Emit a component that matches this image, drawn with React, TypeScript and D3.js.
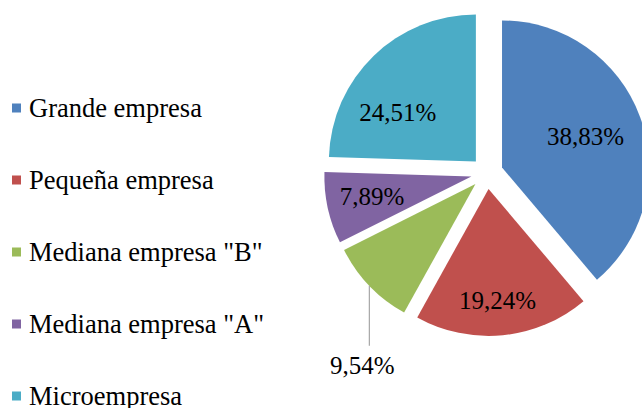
import React from 'react';
import * as d3 from 'd3';

// data
const categories = ['Grande empresa', 'Pequeña empresa', 'Mediana empresa "B"', 'Mediana empresa "A"', 'Microempresa'];
const shares = [38.83, 19.24, 9.54, 7.89, 24.51];
const colors = ['#4F81BD', '#C0504D', '#9BBB59', '#8064A2', '#4BACC6'];

// label placement (fraction of radius along the slice, angle nudge in degrees, outside with leader)
const labelLayout = [
  { f: 0.605, nudge: 0, outside: false },
  { f: 0.76, nudge: 1, outside: false },
  { f: 1, nudge: 0, outside: true },
  { f: 0.69, nudge: 1, outside: false },
  { f: 0.626, nudge: -14, outside: false },
];

const W = 642;
const H = 408;
const fontStyle = { fontFamily: 'Liberation Serif' };

const App = () => {
  const cx = 487;
  const cy = 173;
  const radius = 147;
  const explode = 16;

  const pie = d3.pie<number>().sort(null).value(d => d).startAngle(0).endAngle(2 * Math.PI);
  const arcs = pie(shares);
  const arc = d3.arc<d3.PieArcDatum<number>>().innerRadius(0).outerRadius(radius);

  const fmt = (v: number) => v.toFixed(2).replace('.', ',') + '%';

  // legend scale
  const legendY = d3.scalePoint<string>().domain(categories).range([108, 396]);

  return (
    <div style={{ position: 'fixed', left: 0, top: 0 }}>
      <svg width={W} height={H} style={{ display: 'block', background: '#fff' }}>
        <g transform={`translate(${cx},${cy})`}>
          {arcs.map((a, i) => {
            const mid = (a.startAngle + a.endAngle) / 2;
            const ox = Math.sin(mid) * explode;
            const oy = -Math.cos(mid) * explode;
            const lay = labelLayout[i];
            const la = mid + (lay.nudge * Math.PI) / 180;
            let label: React.ReactNode;
            if (lay.outside) {
              const x0 = ox + Math.sin(mid) * radius;
              const y0 = oy - Math.cos(mid) * radius;
              label = (
                <g>
                  <line x1={x0} y1={y0} x2={x0} y2={y0 + 60} stroke="#A6A6A6" strokeWidth={1.2} />
                  <text x={x0 - 7} y={y0 + 88} textAnchor="middle" style={fontStyle} fontSize={25} fill="#000">
                    {fmt(shares[i])}
                  </text>
                </g>
              );
            } else {
              const lx = ox + Math.sin(la) * radius * lay.f;
              const ly = oy - Math.cos(la) * radius * lay.f;
              label = (
                <text x={lx} y={ly + 8.5} textAnchor="middle" style={fontStyle} fontSize={25} fill="#000">
                  {fmt(shares[i])}
                </text>
              );
            }
            return (
              <g key={categories[i]}>
                <path d={arc(a) || ''} transform={`translate(${ox},${oy})`} fill={colors[i]} />
                {label}
              </g>
            );
          })}
        </g>
        <g>
          {categories.map((c, i) => {
            const y = legendY(c) as number;
            return (
              <g key={c}>
                <rect x={12} y={y - 4.5} width={9} height={9} fill={colors[i]} />
                <text x={29} y={y + 8.5} style={fontStyle} fontSize={26.5} fill="#000">
                  {c}
                </text>
              </g>
            );
          })}
        </g>
      </svg>
    </div>
  );
};

export default App;
